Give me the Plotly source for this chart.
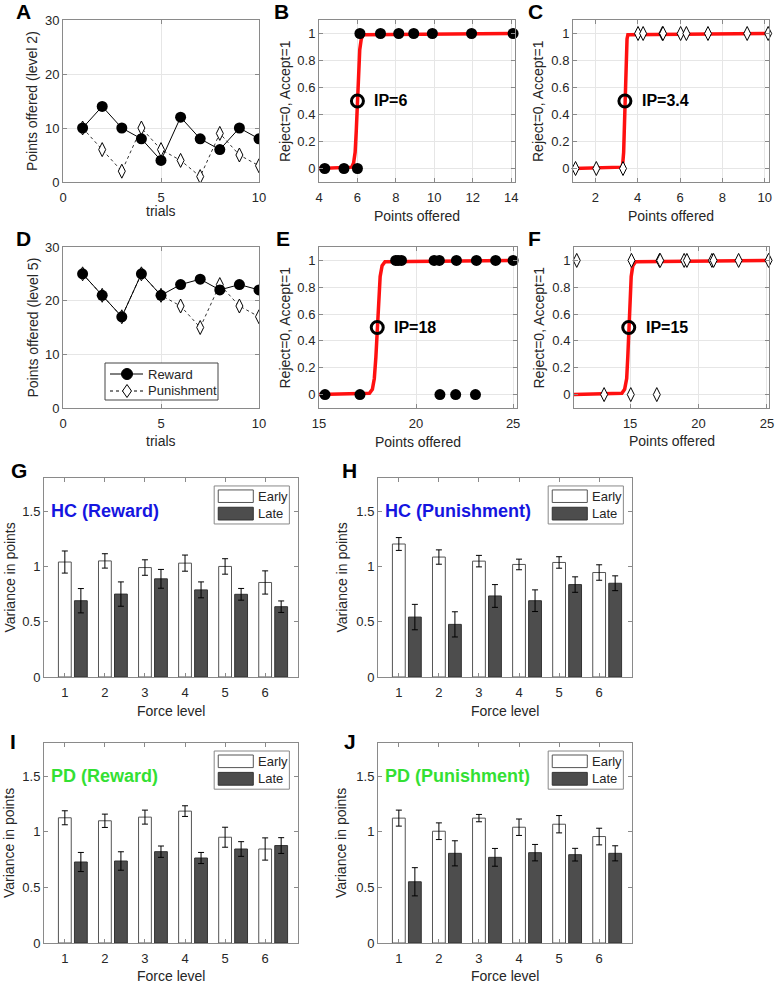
import plotly.graph_objects as go

W, H = 775, 985
FONT = "Liberation Sans, Arial, sans-serif"

# ---- panels A / D: offers over trials
trials = [1, 2, 3, 4, 5, 6, 7, 8, 9, 10]
reward_l2 = [10, 14, 10, 8, 4, 12, 8, 6, 10, 8]
punish_l2 = [10, 6, 2, 10, 6, 4, 1, 9, 5, 3]
reward_l5 = [25, 21, 17, 25, 21, 23, 24, 22, 23, 22]
punish_l5 = [25, 21, 17, 25, 21, 19, 15, 23, 19, 17]

# ---- panels B, C, E, F: choices (0 = reject, 1 = accept) and fitted curve
b_reject = [4.3, 5.3, 6.0]
b_accept = [6.13, 7.2, 8.15, 8.93, 9.9, 11.94, 14.1]
b_curve_x = [4.0, 5.7, 5.8, 5.88, 5.94, 6.0, 6.06, 6.12, 6.2, 6.3, 14.2]

c_reject = [1.07, 2.05, 3.31]
c_accept = [4.02, 4.26, 5.17, 5.2, 6.03, 6.3, 7.32, 9.17, 10.16]
c_curve_x = [0.95, 3.26, 3.3, 3.34, 3.37, 3.4, 3.43, 3.46, 3.5, 3.54, 10.2]

e_reject = [15.31, 17.11, 21.23, 22.04, 23.06]
e_accept = [18.95, 19.08, 19.25, 20.93, 21.2, 22.08, 23.11, 24.1, 25.0]
e_curve_x = [15.0, 17.6, 17.75, 17.85, 17.93, 18.0, 18.07, 18.15, 18.25, 18.4, 25.2]

f_reject = [13.1, 15.05, 16.95]
f_accept = [11.1, 15.1, 17.15, 17.2, 18.95, 19.15, 20.98, 21.1, 22.93, 25.12]
f_curve_x = [10.9, 14.4, 14.6, 14.75, 14.83, 14.9, 14.98, 15.08, 15.2, 15.4, 25.15]

curve_y = [0, 0.01, 0.04, 0.12, 0.28, 0.5, 0.72, 0.88, 0.96, 0.99, 1]
ip_x = [6.0, 3.4, 18.0, 14.9]
ip_labels = ["IP=6", "IP=3.4", "IP=18", "IP=15"]

# ---- panels G-J: variance by force level
levels = [1, 2, 3, 4, 5, 6]
hc_rew_early = [1.04, 1.05, 0.99, 1.03, 1.00, 0.855]
hc_rew_early_err = [0.10, 0.065, 0.07, 0.073, 0.07, 0.105]
hc_rew_late = [0.69, 0.75, 0.888, 0.788, 0.748, 0.636]
hc_rew_late_err = [0.11, 0.11, 0.085, 0.072, 0.053, 0.052]

hc_pun_early = [1.203, 1.085, 1.048, 1.018, 1.036, 0.945]
hc_pun_early_err = [0.058, 0.065, 0.052, 0.048, 0.052, 0.07]
hc_pun_late = [0.542, 0.476, 0.733, 0.69, 0.836, 0.848]
hc_pun_late_err = [0.115, 0.114, 0.103, 0.098, 0.07, 0.067]

pd_rew_early = [1.127, 1.10, 1.133, 1.187, 0.952, 0.846]
pd_rew_early_err = [0.063, 0.06, 0.063, 0.048, 0.09, 0.10]
pd_rew_late = [0.729, 0.738, 0.822, 0.765, 0.846, 0.877]
pd_rew_late_err = [0.086, 0.083, 0.051, 0.05, 0.066, 0.071]

pd_pun_early = [1.124, 1.006, 1.124, 1.042, 1.069, 0.958]
pd_pun_early_err = [0.072, 0.075, 0.033, 0.074, 0.078, 0.075]
pd_pun_late = [0.551, 0.807, 0.771, 0.813, 0.795, 0.807]
pd_pun_late_err = [0.127, 0.113, 0.08, 0.074, 0.057, 0.068]

# pixel boxes of each axes (x0, x1, y0, y1), top-left origin
boxes = {
    1: (63, 259, 20, 182), 2: (319, 515, 20, 182), 3: (573, 769, 20, 182),
    4: (63, 259, 247, 408), 5: (319, 517, 247, 408), 6: (574, 769, 247, 408),
    7: (44, 298, 478, 677), 8: (378, 632, 478, 677),
    9: (44, 298, 743, 943), 10: (378, 632, 743, 943),
}
# axis title positions in pixels: (x title centre y, y title centre x)
title_pos = {
    1: (211, 32), 2: (216, 285), 3: (216, 538),
    4: (441, 32), 5: (442, 284), 6: (441, 538),
    7: (711, 9), 8: (711, 341), 9: (976, 9), 10: (976, 341),
}


def px(x):
    return x / W


def py(y):
    return 1 - y / H


def refs(i):
    s = "" if i == 1 else str(i)
    return "x" + s, "y" + s


def axis_style(grid):
    return dict(showline=True, linecolor="#8a8a8a", linewidth=1, mirror="ticks",
                ticks="inside", ticklen=4, tickcolor="#8a8a8a", automargin=False,
                tickfont=dict(size=13, color="#262626", family=FONT),
                zeroline=False, showgrid=grid, gridcolor="#e6e6e6", gridwidth=1)


def text_font(size=14, color="#262626"):
    return dict(size=size, color=color, family=FONT)


fig = go.Figure()
layout = {}
annotations = []
shapes = []
for i, (x0, x1, y0, y1) in boxes.items():
    s = "" if i == 1 else str(i)
    xa = axis_style(i <= 6)
    ya = axis_style(i <= 6)
    xa.update(domain=[px(x0), px(x1)], anchor="y" + s, ticklabelstandoff=3)
    ya.update(domain=[py(y1), py(y0)], anchor="x" + s)
    layout["xaxis" + s] = xa
    layout["yaxis" + s] = ya


def add_titles(i, xtitle, ytitle):
    x0, x1, y0, y1 = boxes[i]
    ty, tx = title_pos[i]
    annotations.append(dict(x=px((x0 + x1) / 2), y=py(ty), xref="paper", yref="paper",
                            text=xtitle, showarrow=False, xanchor="center", yanchor="middle",
                            font=text_font()))
    annotations.append(dict(x=px(tx), y=py((y0 + y1) / 2), xref="paper", yref="paper",
                            text=ytitle, showarrow=False, textangle=-90, xanchor="center",
                            yanchor="middle", font=text_font()))


# A and D
for i, rew, pun, lvl in [(1, reward_l2, punish_l2, 2), (4, reward_l5, punish_l5, 5)]:
    xr, yr = refs(i)
    s = "" if i == 1 else str(i)
    fig.add_trace(go.Scatter(x=trials, y=pun, mode="lines+markers", name="Punishment",
                             line=dict(color="#333", width=1, dash="dot"),
                             marker=dict(symbol="diamond-tall", size=10, color="white",
                                         line=dict(color="black", width=1)),
                             xaxis=xr, yaxis=yr))
    fig.add_trace(go.Scatter(x=trials, y=rew, mode="lines+markers", name="Reward",
                             line=dict(color="black", width=1),
                             marker=dict(symbol="circle", size=11, color="black"),
                             xaxis=xr, yaxis=yr))
    layout["xaxis" + s].update(range=[0, 10], tickvals=[0, 5, 10])
    layout["yaxis" + s].update(range=[0, 30], tickvals=[0, 10, 20, 30])
    add_titles(i, "trials", f"Points offered (level {lvl})")

# legend of panel D drawn by hand (MATLAB style box)
shapes.append(dict(type="rect", xref="paper", yref="paper", x0=px(105), x1=px(218), y0=py(400), y1=py(363),
                   line=dict(color="#444", width=1), fillcolor="white", layer="above"))
for name, yy, dash, sym in [("Reward", 374, "solid", "circle"), ("Punishment", 391, "dot", "diamond")]:
    shapes.append(dict(type="line", xref="paper", yref="paper", x0=px(110), x1=px(143), y0=py(yy), y1=py(yy),
                       line=dict(color="black", width=1, dash=dash), layer="above"))
    if sym == "circle":
        shapes.append(dict(type="circle", xref="paper", yref="paper", xsizemode="pixel", ysizemode="pixel",
                           xanchor=px(127), yanchor=py(yy), x0=-5.5, x1=5.5, y0=-5.5, y1=5.5,
                           fillcolor="black", line=dict(color="black", width=1), layer="above"))
    else:
        shapes.append(dict(type="path", xref="paper", yref="paper", xsizemode="pixel", ysizemode="pixel",
                           xanchor=px(127), yanchor=py(yy), path="M 0 6.5 L 4.5 0 L 0 -6.5 L -4.5 0 Z",
                           fillcolor="white", line=dict(color="black", width=1), layer="above"))
    annotations.append(dict(x=px(146), y=py(yy), xref="paper", yref="paper", text=name, showarrow=False,
                            xanchor="left", yanchor="middle", font=text_font(13)))

# B, C, E, F
choice_panels = [
    (2, b_reject, b_accept, b_curve_x, "circle", [4, 14.2], [4, 6, 8, 10, 12, 14]),
    (3, c_reject, c_accept, c_curve_x, "diamond-tall", [0.95, 10.2], [2, 4, 6, 8, 10]),
    (5, e_reject, e_accept, e_curve_x, "circle", [15, 25.2], [15, 20, 25]),
    (6, f_reject, f_accept, f_curve_x, "diamond-tall", [10.9, 25.15], [15, 20, 25]),
]
for k, (i, rej, acc, cx, sym, xr_range, xt) in enumerate(choice_panels):
    xr, yr = refs(i)
    s = str(i)
    fig.add_trace(go.Scatter(x=cx, y=curve_y, mode="lines", line=dict(color="#ff1010", width=3.5),
                             xaxis=xr, yaxis=yr))
    pts_x = rej + acc
    pts_y = [0] * len(rej) + [1] * len(acc)
    if sym == "circle":
        mk = dict(symbol="circle", size=11, color="black")
    else:
        mk = dict(symbol="diamond-tall", size=10, color="white", line=dict(color="black", width=1))
    fig.add_trace(go.Scatter(x=pts_x, y=pts_y, mode="markers", marker=mk, cliponaxis=False,
                             xaxis=xr, yaxis=yr))
    fig.add_trace(go.Scatter(x=[ip_x[k]], y=[0.5], mode="markers",
                             marker=dict(symbol="circle-open", size=12, color="black", line=dict(width=3)),
                             xaxis=xr, yaxis=yr))
    annotations.append(dict(x=ip_x[k], y=0.5, xref=xr, yref=yr, text=f"<b>{ip_labels[k]}</b>",
                            showarrow=False, xanchor="left", yanchor="middle", xshift=15,
                            font=text_font(16, "black")))
    layout["xaxis" + s].update(range=xr_range, tickvals=xt)
    layout["yaxis" + s].update(range=[-0.1, 1.1], tickvals=[0, 0.2, 0.4, 0.6, 0.8, 1],
                               ticktext=["0", "0.2", "0.4", "0.6", "0.8", "1"])
    add_titles(i, "Points offered", "Reject=0, Accept=1")

# G-J
bar_panels = [
    (7, hc_rew_early, hc_rew_early_err, hc_rew_late, hc_rew_late_err, "HC (Reward)", "#1515e0"),
    (8, hc_pun_early, hc_pun_early_err, hc_pun_late, hc_pun_late_err, "HC (Punishment)", "#1515e0"),
    (9, pd_rew_early, pd_rew_early_err, pd_rew_late, pd_rew_late_err, "PD (Reward)", "#33e033"),
    (10, pd_pun_early, pd_pun_early_err, pd_pun_late, pd_pun_late_err, "PD (Punishment)", "#33e033"),
]
for i, e, ee, l, le, label, col in bar_panels:
    xr, yr = refs(i)
    s = str(i)
    fig.add_trace(go.Bar(x=levels, y=e, width=0.32, offset=-0.16, name="Early",
                         marker=dict(color="white", line=dict(color="#555", width=1)),
                         error_y=dict(type="data", array=ee, color="black", thickness=1, width=3),
                         xaxis=xr, yaxis=yr))
    fig.add_trace(go.Bar(x=levels, y=l, width=0.32, offset=0.24, name="Late",
                         marker=dict(color="#4d4d4d", line=dict(color="#333", width=1)),
                         error_y=dict(type="data", array=le, color="black", thickness=1, width=3),
                         xaxis=xr, yaxis=yr))
    layout["xaxis" + s].update(range=[0.48, 6.82], tickvals=levels)
    layout["yaxis" + s].update(range=[0, 1.8], tickvals=[0, 0.5, 1, 1.5])
    add_titles(i, "Force level", "Variance in points")
    annotations.append(dict(x=0.02, y=1.5, xref=xr + " domain", yref=yr, text=f"<b>{label}</b>",
                            showarrow=False, xanchor="left", yanchor="middle",
                            font=text_font(18, col)))
    dx, dy = xr + " domain", yr + " domain"
    shapes.append(dict(type="rect", xref=dx, yref=dy, x0=0.67, x1=0.966, y0=0.769, y1=0.96,
                       line=dict(color="#888", width=1), fillcolor="white"))
    shapes.append(dict(type="rect", xref=dx, yref=dy, x0=0.686, x1=0.824, y0=0.877, y1=0.94,
                       line=dict(color="#555", width=1), fillcolor="white"))
    shapes.append(dict(type="rect", xref=dx, yref=dy, x0=0.686, x1=0.824, y0=0.789, y1=0.853,
                       line=dict(color="#333", width=1), fillcolor="#4d4d4d"))
    for txt, yy in [("Early", 0.908), ("Late", 0.821)]:
        annotations.append(dict(x=0.833, y=yy, xref=dx, yref=dy, text=txt, showarrow=False,
                                xanchor="left", yanchor="middle", font=text_font(13)))

# panel letters (pixel positions of their left / vertical centre)
letters = [("A", 14, 12), ("B", 272, 12), ("C", 526, 12), ("D", 14, 238), ("E", 274, 238),
           ("F", 526, 238), ("G", 9, 470), ("H", 340, 470), ("I", 8, 741), ("J", 342, 741)]
for t, lx, ly in letters:
    annotations.append(dict(x=px(lx), y=py(ly), xref="paper", yref="paper", text=f"<b>{t}</b>",
                            showarrow=False, xanchor="left", yanchor="middle",
                            font=text_font(21, "black")))

fig.update_layout(**layout)
fig.update_layout(
    width=W, height=H, margin=dict(l=0, r=0, t=0, b=0, autoexpand=False),
    paper_bgcolor="white", plot_bgcolor="white",
    font=dict(family=FONT, color="#262626"),
    barmode="overlay", annotations=annotations, shapes=shapes, showlegend=False,
)

fig.write_html("out.html", config={"displayModeBar": False},
               post_script="document.body.style.margin='0px';document.body.style.overflow='hidden';")
